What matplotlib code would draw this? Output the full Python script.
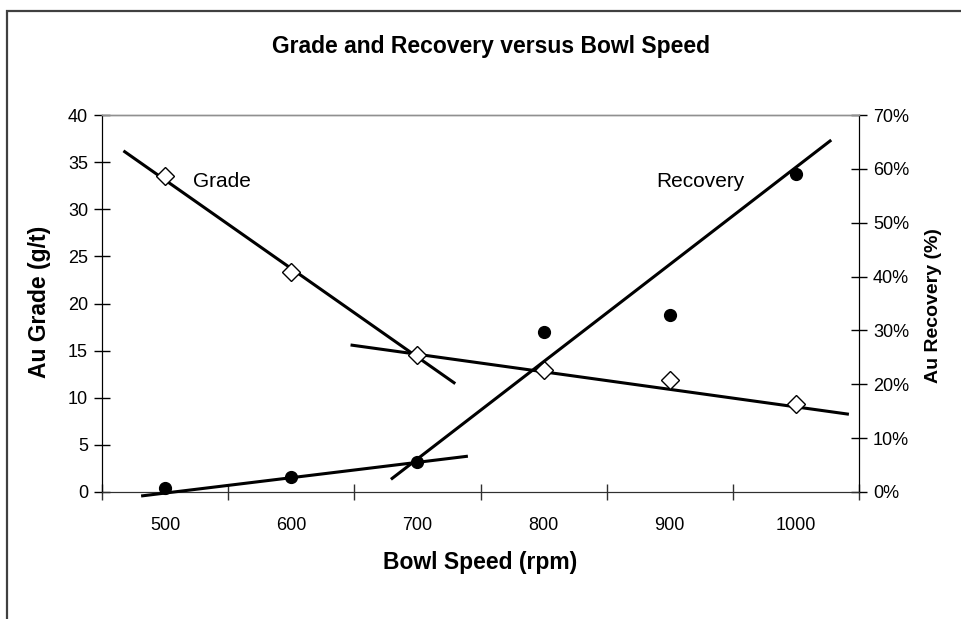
import matplotlib
matplotlib.use("Agg")
import matplotlib.pyplot as plt
from matplotlib.ticker import FixedLocator, NullFormatter, FixedFormatter
from matplotlib.patches import Rectangle

plt.rcParams['font.family'] = ['Liberation Sans', 'DejaVu Sans']

# ---- data ----
speeds = [500, 600, 700, 800, 900, 1000]
speed_labels = ['500', '600', '700', '800', '900', '1000']
grade = [33.5, 23.3, 14.5, 12.9, 11.9, 9.3]            # g/t
recovery = [0.8, 2.7, 5.5, 29.8, 32.8, 59.0]           # %

# trendlines (start/end)
grade_trend1_x = [467, 730]
grade_trend1_y = [36.2, 11.5]
grade_trend2_x = [647, 1042]
grade_trend2_y = [15.6, 8.25]
rec_trend1_x = [481, 740]
rec_trend1_y = [-0.74, 6.65]
rec_trend2_x = [679, 1028]
rec_trend2_y = [2.35, 65.35]

grade_ticks = [0, 5, 10, 15, 20, 25, 30, 35, 40]
rec_ticks = [0, 10, 20, 30, 40, 50, 60, 70]
x_bounds = [450, 550, 650, 750, 850, 950, 1050]

fig = plt.figure(figsize=(9.62, 6.19), dpi=100)
ax = fig.add_axes([102/962, 1-492/619, (859-102)/962, 377/619])
ax2 = ax.twinx()

# outer chart frame
fig.patches.append(Rectangle((7/962, -0.1), 1.2, 1 - 11/619 + 0.1,
                             transform=fig.transFigure, fill=False,
                             edgecolor='#404040', linewidth=1.6))

# grade
ax.plot(grade_trend1_x, grade_trend1_y, color='black', lw=2.2, solid_capstyle='butt',
        zorder=3, clip_on=False)
ax.plot(grade_trend2_x, grade_trend2_y, color='black', lw=2.2, solid_capstyle='butt',
        zorder=3, clip_on=False)
ax.plot(speeds, grade, linestyle='none', marker='D', ms=9.0, mfc='white',
        mec='black', mew=1.0, zorder=4, clip_on=False)

# recovery
ax2.plot(rec_trend1_x, rec_trend1_y, color='black', lw=2.2, solid_capstyle='butt',
         zorder=3, clip_on=False)
ax2.plot(rec_trend2_x, rec_trend2_y, color='black', lw=2.2, solid_capstyle='butt',
         zorder=3, clip_on=False)
ax2.plot(speeds, recovery, linestyle='none', marker='o', ms=8.5, mfc='black',
         mec='black', zorder=4, clip_on=False)

ax.set_xlim(450, 1050)
ax.set_ylim(0, 40)
ax2.set_ylim(0, 70)

ax.xaxis.set_major_locator(FixedLocator(x_bounds))
ax.xaxis.set_major_formatter(NullFormatter())
ax.xaxis.set_minor_locator(FixedLocator(speeds))
ax.xaxis.set_minor_formatter(FixedFormatter(speed_labels))
ax.tick_params(axis='x', which='major', direction='inout', length=12, width=1, color='#303030')
ax.tick_params(axis='x', which='minor', length=0, pad=18, labelsize=13)

ax.set_yticks(grade_ticks)
ax.tick_params(axis='y', direction='inout', length=12, width=1, labelsize=13, pad=4)
ax2.set_yticks(rec_ticks)
ax2.set_yticklabels([f'{t}%' for t in rec_ticks])
ax2.tick_params(axis='y', direction='inout', length=12, width=1, labelsize=13, pad=4)

for a in (ax, ax2):
    a.spines['top'].set_color('#909090')
    a.spines['top'].set_linewidth(1.0)
    a.spines['left'].set_color('black')
    a.spines['right'].set_color('black')
    a.spines['bottom'].set_color('#303030')
    a.patch.set_visible(False)

ax.text(522, 32.4, 'Grade', fontsize=15, ha='left', va='baseline')
ax.text(889, 32.4, 'Recovery', fontsize=15, ha='left', va='baseline')

fig.text(491/962, 1-47/619, 'Grade and Recovery versus Bowl Speed', fontsize=16.5,
         fontweight='bold', ha='center', va='center')
fig.text(480/962, 1-563/619, 'Bowl Speed (rpm)', fontsize=16.5,
         fontweight='bold', ha='center', va='center')
fig.text(40/962, 1-302/619, 'Au Grade (g/t)', fontsize=16.5, fontweight='bold',
         rotation=90, ha='center', va='center')
fig.text(934/962, 1-306/619, 'Au Recovery (%)', fontsize=14, fontweight='bold',
         rotation=90, ha='center', va='center')

fig.savefig('out.png', dpi=100)
